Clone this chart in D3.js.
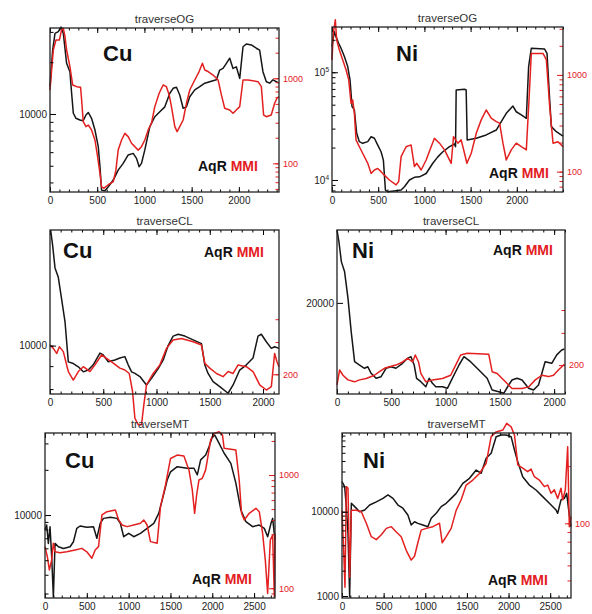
<!DOCTYPE html>
<html>
<head>
<meta charset="utf-8">
<script src="https://cdn.jsdelivr.net/npm/d3@7"></script>
<style>
  body { margin: 0; background: #fff; }
  svg { display: block; font-family: "Liberation Sans", Arial, Helvetica, sans-serif; }
</style>
</head>
<body>
<svg id="chart" width="592" height="614"></svg>
<script>
// ---- data: distance along traverse (m) and concentration, AqR (black) / MMI (red)

// traverseOG, Cu
var ogCuAqrDist = [0,28,53,88,116,141,176,211,229,247,275,317,352,381,405,440,476,511,529,546,581,617,670,722,775,828,881,916,944,969,1004,1057,1110,1163,1216,1269,1304,1339,1374,1410,1445,1480,1533,1586,1639,1691,1762,1797,1832,1868,1903,1938,1973,2009,2044,2079,2132,2185,2220,2255,2291,2326,2361,2396,2424];
var ogCuAqr = [14400,23500,29400,30100,32000,29400,19700,17600,13200,10100,9440,9230,9140,9870,10200,9440,8070,6460,4940,3610,3580,3780,4130,4720,5160,5780,5900,5520,4940,5160,6180,8440,9640,10300,11000,13200,14100,14300,12900,10800,11000,12600,13800,14400,15100,15400,15800,18000,18400,19700,21100,18400,18800,16100,24600,25500,25200,24100,23500,17600,15400,15100,15800,15400,15100];
var ogCuMmiDist = [0,35,63,99,123,141,159,176,211,240,282,324,335,352,381,405,440,476,504,529,546,571,617,670,698,722,758,793,828,863,899,934,969,1004,1040,1075,1110,1156,1198,1233,1262,1286,1322,1346,1374,1410,1445,1480,1533,1579,1614,1639,1674,1727,1780,1815,1850,1903,1938,1973,2009,2044,2097,2203,2238,2262,2291,2343,2379,2403,2424];
var ogCuMmi = [728,2150,2820,2820,3700,3870,3080,2150,1370,834,797,783,556,309,270,282,247,188,120,76,53,51,56,61,83,143,188,225,206,172,157,143,157,188,247,296,464,667,834,797,637,464,270,236,270,323,508,728,955,1200,1500,1250,1200,1090,955,637,444,424,387,424,464,955,955,912,797,370,353,370,508,582,608];

// traverseOG, Ni
var ogNiAqrDist = [0,25,43,72,98,134,170,195,217,242,267,296,332,387,423,459,495,531,556,578,603,694,748,784,838,892,947,1019,1091,1145,1200,1272,1326,1337,1344,1434,1452,1463,1561,1669,1778,1832,1886,1958,1994,2049,2103,2128,2157,2301,2327,2356,2374,2428,2500];
var ogNiAqr = [173000,238000,214000,186000,167000,140000,113000,84900,48000,44700,27100,22700,21900,22700,25200,24400,21100,18300,15300,8070,7790,7960,8070,8670,10000,10600,10700,11500,14300,16400,18300,20400,21600,20400,68500,69500,68500,23500,24400,26200,29100,34800,41600,48600,43000,40200,37400,113000,167000,164000,150000,55300,31300,28100,25600];
var ogNiMmiDist = [0,14,36,51,79,116,152,181,206,224,242,260,296,332,387,423,459,495,531,567,621,694,722,748,802,856,892,918,965,1019,1073,1109,1163,1218,1290,1315,1362,1398,1434,1460,1507,1561,1615,1669,1723,1778,1814,1850,1886,1940,1994,2049,2103,2132,2157,2284,2320,2356,2392,2446,2500];
var ogNiMmi = [1430,2700,3710,2300,1820,1430,1130,888,509,551,402,213,181,155,122,96,104,108,100,92,82,73,79,143,181,189,113,122,104,132,181,221,197,168,122,230,197,213,155,122,155,249,343,434,357,329,317,197,132,168,197,181,168,551,1670,1670,1430,470,197,204,181];

// traverseCL, Cu
var clCuAqrDist = [6,25,47,78,109,141,172,219,266,313,359,406,469,500,547,609,656,703,734,766,797,844,906,953,1016,1063,1109,1156,1203,1266,1344,1422,1453,1484,1531,1594,1672,1719,1781,1844,1906,1953,1984,2031,2078,2109,2150];
var clCuAqr = [18100,16700,14900,14200,12700,11300,9200,9120,8970,8740,8820,9060,9620,9530,9200,9290,9380,9450,9060,8740,8670,8530,8170,8450,8890,9290,10000,10500,10600,10500,10300,10100,9060,8670,8310,8100,7830,8170,8820,9060,9380,10500,10600,10200,9860,9940,9860];
var clCuMmiDist = [0,31,63,88,125,172,219,266,313,375,422,484,531,594,656,703,744,775,797,828,859,881,906,969,1031,1094,1156,1234,1344,1422,1453,1500,1563,1625,1672,1719,1766,1844,1906,1969,2031,2078,2109,2131,2150];
var clCuMmi = [289,277,260,283,266,207,186,207,220,207,225,255,244,230,216,211,202,161,115,106,106,136,175,202,225,277,308,314,301,289,230,216,202,194,207,202,225,220,207,175,164,171,260,234,220];

// traverseCL, Ni
var clNiAqrDist = [0,18,40,70,101,131,162,208,253,284,314,360,406,452,498,543,604,650,681,711,733,772,818,849,879,910,971,1017,1062,1124,1169,1230,1307,1383,1429,1490,1536,1581,1612,1658,1704,1765,1810,1856,1887,1917,1978,2024,2070,2094];
var clNiAqr = [33600,31400,27700,25800,20900,14600,9030,8410,7800,8090,6860,5930,6230,7800,8090,7800,8730,9660,9960,8410,5930,5300,4360,5930,5000,4360,4360,4060,5930,8410,9960,9030,7480,5930,3750,3430,3130,4680,5610,5930,5610,4060,3750,4680,6860,9030,8730,10300,11200,11400];
var clNiMmiDist = [0,24,55,101,162,208,269,345,391,437,482,543,604,650,696,721,751,772,818,879,971,1047,1093,1139,1200,1398,1429,1475,1551,1612,1704,1765,1826,1887,1948,1994,2039,2094];
var clNiMmi = [156,188,176,166,162,166,169,176,184,192,196,200,208,218,208,227,208,180,162,166,169,176,200,227,232,229,184,180,162,149,149,152,166,176,173,176,188,202];

// traverseMT, Cu
var mtCuAqrDist = [0,20,40,60,80,100,120,160,220,300,340,380,420,500,580,620,660,700,781,861,901,941,1001,1061,1141,1221,1301,1361,1421,1461,1501,1581,1701,1781,1821,1861,1921,1961,2001,2030,2082,2142,2222,2282,2342,2402,2482,2562,2622,2662,2702,2722,2750];
var mtCuAqr = [7940,8580,6470,8360,5270,2850,6470,6150,5990,6150,6640,8150,8450,8280,8360,7000,8800,9500,9660,9500,8800,7170,7550,7170,7550,8150,8800,10300,13900,17100,19400,21000,20500,20500,18500,23300,25100,28500,33200,34100,30000,25800,22100,16300,10800,9030,8360,8580,8150,7170,8800,9500,6810];
var mtCuMmiDist = [0,28,52,80,100,120,180,260,360,440,500,560,600,640,681,741,841,881,921,981,1061,1141,1181,1221,1261,1341,1381,1441,1501,1581,1661,1721,1761,1789,1813,1841,1881,1921,1981,2022,2082,2122,2142,2222,2282,2322,2350,2382,2442,2522,2562,2602,2634,2662,2694,2722,2742,2750];
var mtCuMmi = [233,190,145,178,250,210,206,210,218,225,210,184,218,233,444,474,491,401,362,350,362,375,401,362,258,250,525,816,1400,1500,1470,1110,738,459,666,904,935,1110,2040,2330,2410,2250,1720,1690,1660,904,459,401,459,508,474,305,178,90,267,295,84,305];

// traverseMT, Ni
var mtNiAqrDist = [0,32,52,72,92,112,152,212,272,332,412,492,552,612,672,731,791,831,871,911,971,1031,1071,1131,1191,1251,1311,1371,1451,1531,1611,1671,1731,1791,1851,1911,1971,2031,2071,2111,2170,2250,2330,2410,2490,2570,2590,2630,2670,2698,2722,2750];
var mtNiAqr = [22700,19800,11500,5550,982,12600,11500,10000,10500,12000,13100,14400,15800,14400,12000,11000,9140,6950,7610,7270,6950,6640,8350,9570,11500,12600,14400,16500,21700,24900,31200,28600,43000,49300,77700,81300,81300,77700,54000,39200,26000,20700,18100,15100,12600,10500,9570,13800,14400,16500,10500,6640];
var mtNiMmiDist = [0,20,36,52,72,92,112,172,232,292,352,412,472,532,592,652,711,771,831,871,911,951,1011,1091,1131,1171,1203,1251,1311,1371,1431,1491,1571,1651,1731,1791,1851,1931,1978,2031,2071,2111,2170,2230,2270,2310,2370,2430,2470,2510,2550,2590,2630,2650,2682,2710,2730,2750];
var mtNiMmi = [117,72,46,156,153,52,117,117,115,100,85,82,87,94,96,90,85,72,64,67,79,92,94,96,98,100,79,85,94,117,133,159,169,183,207,286,303,310,336,322,292,203,195,187,193,176,169,156,159,144,150,135,153,133,150,253,96,108];

// ---- axis ranges and tick labels
var xTicksOG = [0, 500, 1000, 1500, 2000];
var xTicksCL = [0, 500, 1000, 1500, 2000];
var xTicksMT = [0, 500, 1000, 1500, 2000, 2500];

var black = "#161616", red = "#e3201f";

var panels = [
  { title: "traverseOG", el: "Cu", box: [50, 279, 28, 192], xDomain: [0, 2425], xTicks: xTicksOG,
    leftType: "log", leftDomain: [3520, 31600], leftLabels: [10000], leftSup: false,
    rightDomain: [46, 3900], rightLabels: [100, 1000], rightTicks: null,
    aqr: [ogCuAqrDist, ogCuAqr], mmi: [ogCuMmiDist, ogCuMmi],
    elPos: [103, 61], legPos: [198, 171] },
  { title: "traverseOG", el: "Ni", box: [332, 563, 27, 192], xDomain: [0, 2500], xTicks: xTicksOG,
    leftType: "log", leftDomain: [7740, 263000], leftLabels: [10000, 100000], leftSup: true,
    rightDomain: [61.6, 3130], rightLabels: [100, 1000], rightTicks: null,
    aqr: [ogNiAqrDist, ogNiAqr], mmi: [ogNiMmiDist, ogNiMmi],
    elPos: [396, 61], legPos: [489, 178] },
  { title: "traverseCL", el: "Cu", box: [50, 279, 230, 394], xDomain: [0, 2150], xTicks: xTicksCL,
    leftType: "log", leftDomain: [7800, 18100], leftLabels: [10000], leftSup: false,
    rightDomain: [156, 1230], rightLabels: [200], rightTicks: [200, 300, 400],
    aqr: [clCuAqrDist, clCuAqr], mmi: [clCuMmiDist, clCuMmi],
    elPos: [63, 258], legPos: [204, 257] },
  { title: "traverseCL", el: "Ni", box: [337, 565, 230, 394], xDomain: [0, 2100], xTicks: xTicksCL,
    leftType: "linear", leftDomain: [3000, 33600], leftLabels: [20000], leftSup: false,
    rightDomain: [139, 1094], rightLabels: [200], rightTicks: [200, 300, 400],
    aqr: [clNiAqrDist, clNiAqr], mmi: [clNiMmiDist, clNiMmi],
    elPos: [352, 258], legPos: [493, 255] },
  { title: "traverseMT", el: "Cu", box: [45, 275, 433, 598], xDomain: [0, 2750], xTicks: xTicksMT,
    leftType: "log", leftDomain: [2800, 35200], leftLabels: [10000], leftSup: false,
    rightDomain: [82, 2350], rightLabels: [100, 1000], rightTicks: null,
    aqr: [mtCuAqrDist, mtCuAqr], mmi: [mtCuMmiDist, mtCuMmi],
    elPos: [65, 468], legPos: [192, 584] },
  { title: "traverseMT", el: "Ni", box: [342, 571, 433, 598], xDomain: [0, 2750], xTicks: xTicksMT,
    leftType: "log", leftDomain: [947, 85900], leftLabels: [1000, 10000], leftSup: false,
    rightDomain: [40.4, 299], rightLabels: [100], rightTicks: null,
    aqr: [mtNiAqrDist, mtNiAqr], mmi: [mtNiMmiDist, mtNiMmi],
    elPos: [363, 468], legPos: [488, 585] }
];

// 1..9 x 10^k ticks inside a log domain
function logMinor(domain) {
  var out = [];
  var lo = Math.floor(Math.log10(domain[0])), hi = Math.ceil(Math.log10(domain[1]));
  for (var e = lo; e <= hi; e++) {
    for (var k = 1; k < 10; k++) {
      var v = k * Math.pow(10, e);
      if (v >= domain[0] && v <= domain[1]) out.push(v);
    }
  }
  return out;
}

var svg = d3.select("#chart");

panels.forEach(function(p) {
  var x0 = p.box[0], x1 = p.box[1], y0 = p.box[2], y1 = p.box[3];

  var x = d3.scaleLinear().domain(p.xDomain).range([x0, x1]);
  var yL = (p.leftType == "linear" ? d3.scaleLinear() : d3.scaleLog())
      .domain(p.leftDomain).range([y1, y0]);
  var yR = d3.scaleLog().domain(p.rightDomain).range([y1, y0]);

  var g = svg.append("g");

  // title
  g.append("text")
    .attr("x", (x0 + x1) / 2).attr("y", y0 - 5)
    .attr("text-anchor", "middle")
    .style("font-size", "11.5px").style("fill", "#333")
    .text(p.title);

  // curves
  var lineL = d3.line().x(function(d) { return x(d[0]); }).y(function(d) { return yL(d[1]); });
  var lineR = d3.line().x(function(d) { return x(d[0]); }).y(function(d) { return yR(d[1]); });

  g.append("path")
    .datum(d3.zip(p.aqr[0], p.aqr[1]))
    .attr("d", lineL)
    .attr("fill", "none").attr("stroke", black)
    .attr("stroke-width", 1.5).attr("stroke-linejoin", "round");

  g.append("path")
    .datum(d3.zip(p.mmi[0], p.mmi[1]))
    .attr("d", lineR)
    .attr("fill", "none").attr("stroke", red)
    .attr("stroke-width", 1.5).attr("stroke-linejoin", "round");

  // x axis, bottom with labels, top mirrored
  var xMinor = d3.range(p.xDomain[0], p.xDomain[1] + 1, 100);

  var xb = g.append("g").attr("transform", "translate(0," + y1 + ")")
    .call(d3.axisBottom(x).tickValues(p.xTicks).tickSizeInner(-5).tickSizeOuter(0)
      .tickPadding(5).tickFormat(d3.format("d")));
  g.append("g").attr("transform", "translate(0," + y1 + ")")
    .call(d3.axisBottom(x).tickValues(xMinor).tickSizeInner(-2.5).tickSizeOuter(0).tickFormat(""));
  g.append("g").attr("transform", "translate(0," + y0 + ")")
    .call(d3.axisTop(x).tickValues(p.xTicks).tickSizeInner(-5).tickSizeOuter(0).tickFormat(""));
  g.append("g").attr("transform", "translate(0," + y0 + ")")
    .call(d3.axisTop(x).tickValues(xMinor).tickSizeInner(-2.5).tickSizeOuter(0).tickFormat(""));

  // left axis
  var leftMinor = p.leftType == "log" ? logMinor(p.leftDomain) : [];
  var yl = g.append("g").attr("transform", "translate(" + x0 + ",0)")
    .call(d3.axisLeft(yL).tickValues(p.leftLabels).tickSizeInner(-6).tickSizeOuter(0)
      .tickPadding(3).tickFormat(d3.format("d")));
  g.append("g").attr("transform", "translate(" + x0 + ",0)")
    .call(d3.axisLeft(yL).tickValues(leftMinor).tickSizeInner(-3.5).tickSizeOuter(0).tickFormat(""));

  if (p.leftSup) {
    yl.selectAll(".tick text").each(function(d) {
      var t = d3.select(this).text("10");
      t.append("tspan").attr("dy", "-0.55em").style("font-size", "6.5px")
        .text(Math.round(Math.log10(d)));
    });
  }

  // right axis (MMI, red)
  var rightMinor = p.rightTicks ? p.rightTicks : logMinor(p.rightDomain);
  var yr = g.append("g").attr("transform", "translate(" + x1 + ",0)")
    .call(d3.axisRight(yR).tickValues(p.rightLabels).tickSizeInner(-6).tickSizeOuter(0)
      .tickPadding(4).tickFormat(d3.format("d")));
  g.append("g").attr("transform", "translate(" + x1 + ",0)")
    .call(d3.axisRight(yR).tickValues(rightMinor).tickSizeInner(-3.5).tickSizeOuter(0).tickFormat(""))
    .selectAll("line").attr("stroke", red);
  yr.selectAll("line").attr("stroke", red);
  yr.selectAll("text").attr("fill", red).style("font-size", "9px");

  g.selectAll(".domain").remove();
  g.selectAll(".tick line").attr("stroke-width", 1);
  xb.selectAll("text").style("font-size", "10px").attr("fill", "#222");
  yl.selectAll(".tick text").style("font-size", "10px").attr("fill", "#222");
  g.selectAll(".tick line:not([stroke='" + red + "'])");

  // frame
  g.append("rect")
    .attr("x", x0).attr("y", y0)
    .attr("width", x1 - x0).attr("height", y1 - y0)
    .attr("fill", "none").attr("stroke", "#222").attr("stroke-width", 1.3);

  // element name
  g.append("text")
    .attr("x", p.elPos[0]).attr("y", p.elPos[1])
    .style("font-size", "22px").style("font-weight", "bold").style("fill", "#111")
    .text(p.el);

  // legend text
  var leg = g.append("text")
    .attr("x", p.legPos[0]).attr("y", p.legPos[1])
    .style("font-size", "14px").style("font-weight", "bold");
  leg.append("tspan").style("fill", "#111").text("AqR ");
  leg.append("tspan").style("fill", red).text("MMI");
});
</script>
</body>
</html>
